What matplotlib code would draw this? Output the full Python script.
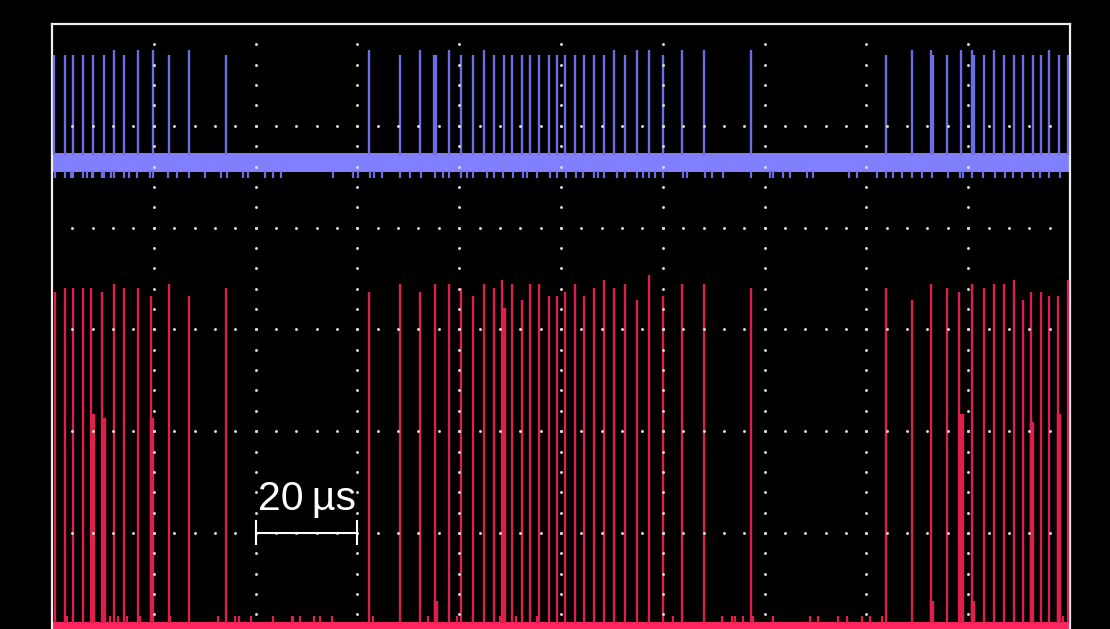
import matplotlib.pyplot as plt
import numpy as np

# time axis in µs (10 div x 20 µs), vertical axis in divisions
blue_spike_t = [0.39, 2.49, 4.07, 6.09, 8.11, 10.16, 12.12, 14.15, 16.95, 19.78, 22.99, 26.97, 34.18, 62.34,
                68.37, 72.36, 75.11, 75.38, 78.0, 80.35, 82.77, 84.81, 86.84, 88.8, 90.43, 92.4, 93.97, 95.62,
                97.64, 99.22, 100.84, 102.81, 104.46, 106.48, 108.45, 110.47, 112.51, 114.87, 117.29, 120.1,
                123.71, 128.09,
                137.32, 163.84, 169.01, 172.63, 173.02, 175.83, 178.64, 180.68, 181.07, 183.1, 185.06, 187.09,
                189.05, 190.7, 192.66, 194.3, 195.93, 197.9, 199.55]
blue_spike_top = [5.70, 5.70, 5.70, 5.70, 5.70, 5.70, 5.74, 5.70, 5.74, 5.74, 5.70, 5.74, 5.70, 5.74,
                  5.70, 5.74, 5.70, 5.70, 5.74, 5.70, 5.70, 5.74, 5.70, 5.70, 5.70, 5.70, 5.70, 5.70,
                  5.70, 5.70, 5.70, 5.70, 5.70, 5.70, 5.70, 5.74, 5.70, 5.74, 5.74, 5.70,
                  5.74, 5.74,
                  5.74, 5.70, 5.74, 5.74, 5.70, 5.70, 5.74, 5.74, 5.70, 5.70, 5.74, 5.70,
                  5.70, 5.70, 5.70, 5.70, 5.74, 5.70, 5.70]
blue_noise_t = [0.59, 2.49, 3.67, 4.18, 6.09, 6.82, 7.8, 8.11, 9.76, 10.22, 11.53, 12.12, 14.15, 15.19,
                16.76, 19.25, 19.78, 22.85, 24.62, 26.97, 30.06, 33.14, 34.32, 37.58, 38.57, 41.85, 43.36,
                44.93, 55.15, 59.19, 60.18, 62.47, 63.26, 64.77,
                68.37, 70.33, 72.43, 75.24, 76.87, 78.05, 80.35, 81.47, 82.77, 85.4, 86.84, 88.66, 90.51,
                92.59, 93.26, 95.22, 97.84, 99.15, 100.92, 102.89, 104.38, 106.48, 107.33, 108.45, 110.94,
                112.57, 114.87, 116.17, 117.29, 118.47, 120.1, 124.03, 124.69, 128.29, 129.6, 131.88,
                137.32, 141.05, 141.71, 143.67, 144.99, 148.27, 149.56, 156.63, 158.09, 162.02, 163.84,
                165.28, 166.93, 169.01, 170.86, 172.82, 176.09, 178.38, 179.03, 180.68, 182.96, 185.26,
                187.23, 188.86, 190.51, 192.79, 194.1, 195.93, 198.03]

red_spike_t = [0.53, 2.49, 4.07, 6.09, 7.72, 9.76, 12.12, 14.15, 16.95, 19.39, 22.99, 26.97, 34.18, 62.34,
               68.37, 72.36, 75.18, 78.0, 80.35, 82.77, 84.81, 86.84, 88.41, 90.43, 92.4, 93.97, 95.62,
               97.64, 99.22, 100.84, 102.81, 104.46, 106.48, 108.45, 110.47, 112.51, 114.87, 117.29, 120.1,
               123.71, 128.09,
               137.32, 163.84, 169.01, 172.63, 175.83, 178.25, 180.68, 183.1, 185.06, 187.09, 189.05, 190.7,
               192.33, 194.3, 195.93, 197.7, 199.55]
red_spike_top = [3.37, 3.41, 3.41, 3.41, 3.41, 3.37, 3.45, 3.41, 3.41, 3.33, 3.45, 3.33, 3.41, 3.37,
                 3.45, 3.37, 3.45, 3.45, 3.41, 3.33, 3.45, 3.41, 3.49, 3.45, 3.29, 3.45, 3.45,
                 3.33, 3.33, 3.37, 3.45, 3.33, 3.41, 3.49, 3.41, 3.45, 3.29, 3.53, 3.33,
                 3.45, 3.45,
                 3.41, 3.41, 3.29, 3.45, 3.41, 3.37, 3.45, 3.41, 3.45, 3.45, 3.49, 3.29,
                 3.37, 3.37, 3.33, 3.33, 3.49]
# wider secondary pulses
red_wide_t = [8.11, 10.16, 19.7, 88.8, 75.5, 172.95, 178.7, 181.0, 192.47, 197.93]
red_wide_top = [2.17, 2.13, 2.13, 3.21, 0.33, 0.33, 2.17, 0.33, 2.09, 2.17]
red_noise_t = [2.89, 11.39, 13.03, 14.68, 17.29, 23.18, 32.67, 35.95, 36.8, 39.04, 43.48, 47.09, 47.41,
               48.72, 51.47, 52.65, 54.95, 63.12, 73.93, 79.51, 88.01, 91.16, 95.22, 122.06, 131.69,
               133.53, 134.18, 135.81, 137.78, 141.71, 148.92, 150.55, 154.48, 156.13, 159.07, 160.7,
               163.0, 179.03, 198.68]

scale_label = "20\u2009µs"
scale_span = (40, 60)

BLUE_BAND = (4.543, 4.736)
BLUE_NOISE_LOW = 4.49
RED_BAND = (0.0, 0.128)
RED_NOISE_TOP = 0.18

W, H = 1110, 629
fig = plt.figure(figsize=(W / 100, H / 100), dpi=100, facecolor='black')
left, right, top = 52 / W, 1070 / W, 1 - 24 / H
height = 6 * 101.8 / H
ax = fig.add_axes([left, top - height, right - left, height], facecolor='black')
ax.set_xlim(0, 200)
ax.set_ylim(0, 6)

# blue trace
blue_c, blue_band_c = '#6c6ce4', '#8080ff'
ax.fill_between([0, 200], BLUE_BAND[0], BLUE_BAND[1], color=blue_band_c, lw=0, zorder=2)
ax.vlines(blue_noise_t, BLUE_NOISE_LOW, BLUE_BAND[0] + 0.01, color=blue_c, lw=1.6, zorder=2)
ax.vlines(blue_spike_t, BLUE_BAND[1] - 0.02, blue_spike_top, color=blue_c, lw=1.7, zorder=3)

# red trace
red_c, red_band_c = '#dc1f4b', '#ff2462'
ax.fill_between([0, 200], RED_BAND[0], RED_BAND[1], color=red_band_c, lw=0, zorder=2)
ax.vlines(red_noise_t, RED_BAND[1] - 0.01, RED_NOISE_TOP, color=red_c, lw=1.6, zorder=2)
ax.vlines(red_wide_t, RED_BAND[1] - 0.01, red_wide_top, color=red_c, lw=3.2, zorder=3)
ax.vlines(red_spike_t, RED_BAND[1] - 0.01, red_spike_top, color=red_c, lw=1.7, zorder=3)

# dotted graticule
dot_kw = dict(ls='none', marker='o', ms=2.1, mew=0, color='#dddddd', zorder=6)
ys = np.arange(1, 30) * 0.2
for k in range(1, 10):
    ax.plot(np.full_like(ys, 20 * k), ys, **dot_kw)
xs = np.arange(1, 50) * 4.0
for k in range(1, 6):
    ax.plot(xs, np.full_like(xs, k), **dot_kw)

# scale bar
ax.plot(scale_span, [1, 1], color='white', lw=1.5, zorder=7, solid_capstyle='butt')
ax.vlines(scale_span, 0.882, 1.128, color='white', lw=1.5, zorder=7)
ax.text(sum(scale_span) / 2, 1.226, scale_label, color='white', fontsize=29.5, ha='center',
        va='baseline', family=['Liberation Sans', 'DejaVu Sans'], zorder=7)

for side in ['top', 'left', 'right']:
    ax.spines[side].set_color('#eeeeee')
    ax.spines[side].set_linewidth(1.6)
ax.spines['bottom'].set_visible(False)
ax.set_xticks([])
ax.set_yticks([])

fig.savefig('out.png', dpi=100, facecolor='black')
